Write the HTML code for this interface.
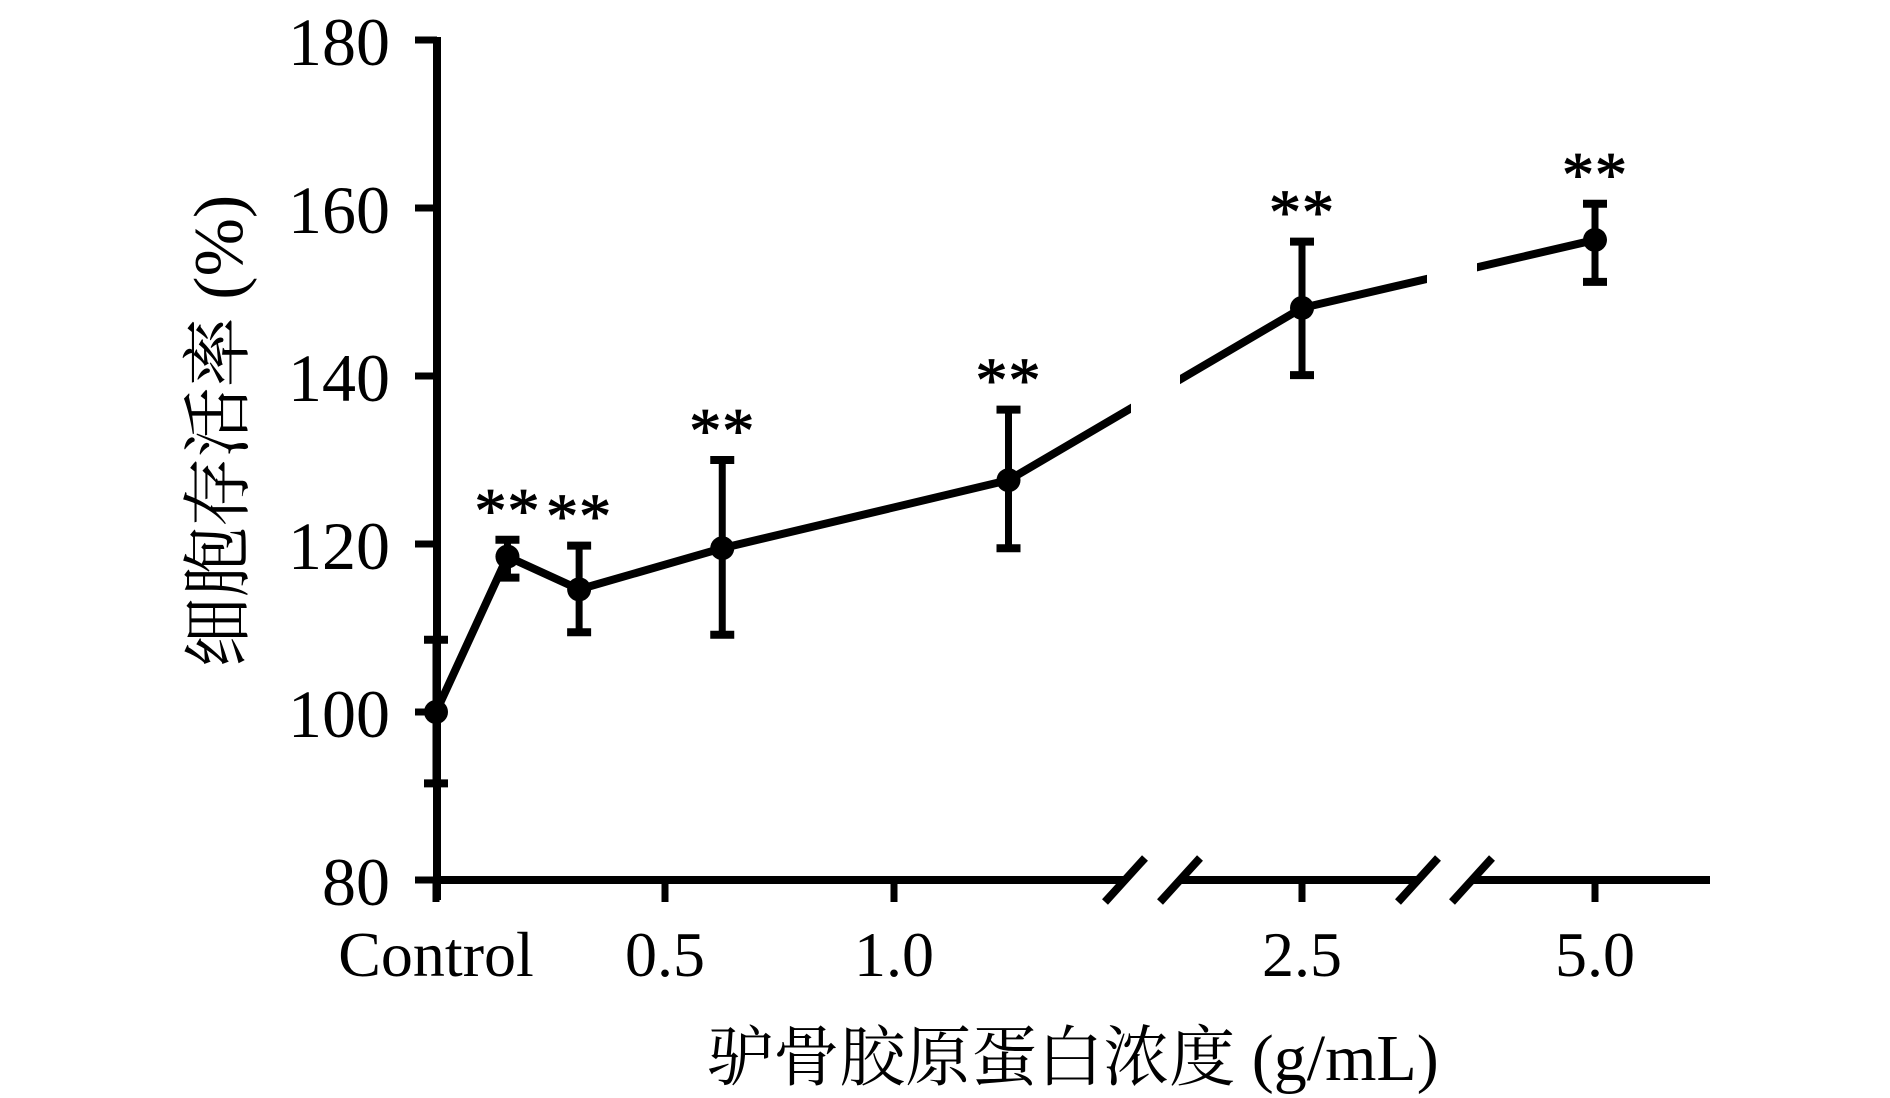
<!DOCTYPE html>
<html><head><meta charset="utf-8"><style>
html,body{margin:0;padding:0;background:#fff}
svg{display:block}
text{font-family:"Liberation Serif","Noto Serif CJK SC",serif;fill:#000}
</style></head><body>
<svg id="chart" width="1890" height="1098" viewBox="0 0 1890 1098" xmlns="http://www.w3.org/2000/svg">
<g id="axes"></g>
<g id="marks"></g>
<text transform="translate(242,431) rotate(-90)" text-anchor="middle" font-size="70">细胞存活率 (%)</text>
<text x="1073" y="1080" text-anchor="middle" font-size="66">驴骨胶原蛋白浓度 (g/mL)</text>
</svg>
<script>
const concentrations = [0, 0.156, 0.3125, 0.625, 1.25, 2.5, 5.0];
const viability = [100, 118.5, 114.6, 119.5, 127.6, 148.1, 156.2];
const errLow = [91.5, 116, 109.5, 109.2, 119.5, 140.1, 151.2];
const errHigh = [108.6, 120.5, 119.8, 130, 136, 156, 160.5];
const significance = ["", "**", "**", "**", "**", "**", "**"];
const yTicks = [80, 100, 120, 140, 160, 180];
const xTickValues = [0, 0.5, 1.0, 2.5, 5.0];
const xTickLabels = ["Control", "0.5", "1.0", "2.5", "5.0"];

const NS = "http://www.w3.org/2000/svg";
function y(v){ return 880 - (v - 80) * 8.4; }
function x(c){
  if (c <= 2) return 436 + c * 458;
  if (c <= 3.5) return 1302 + (c - 2.5) * 200;
  return 1595 + (c - 5) * 200;
}
function mk(tag, attrs, parent){
  const e = document.createElementNS(NS, tag);
  for (const k in attrs) e.setAttribute(k, attrs[k]);
  parent.appendChild(e);
  return e;
}
const axes = document.getElementById('axes');
const marks = document.getElementById('marks');

let el = mk('line', {x1:437, y1:y(180)-3, x2:437, y2:y(80)+20, stroke:'#000','stroke-width':8}, axes);


yTicks.forEach(v => {
  const t = mk('line', {x1:415, y1:y(v), x2:437, y2:y(v), stroke:'#000','stroke-width':7}, axes);
  
  
  const l = mk('text', {x:390, y:y(v)+25, 'text-anchor':'end','font-size':68}, axes);
  l.textContent = v;
  
  
});
[[433,1125],[1180,1420],[1472,1710]].forEach(s => {
  const a = mk('line', {x1:s[0], y1:880, x2:s[1], y2:880, stroke:'#000','stroke-width':8}, axes);
  
  
});
[1125,1180,1418,1472].forEach(cx => {
  const b = mk('line', {x1:cx-20, y1:902, x2:cx+20, y2:858, stroke:'#000','stroke-width':8}, axes);
  
  
});
xTickValues.forEach((c, i) => {
  const t = mk('line', {x1:x(c), y1:880, x2:x(c), y2:902, stroke:'#000','stroke-width':7}, axes);
  
  
  const l = mk('text', {x:x(c), y:976, 'text-anchor':'middle','font-size':64}, axes);
  l.textContent = xTickLabels[i];
  
  
});

const pts = concentrations.map((c, i) => x(c) + ',' + y(viability[i])).join(' ');
el = mk('polyline', {points:pts, fill:'none', stroke:'#000','stroke-width':8,'stroke-linejoin':'round'}, marks);


[[1131,1180],[1427,1477]].forEach(g => {
  const r = mk('rect', {x:g[0], y:0, width:g[1]-g[0], height:850, fill:'#fff'}, marks);
  
  
});
concentrations.forEach((c, i) => {
  const cx = x(c);
  const eb = mk('line', {x1:cx, y1:y(errHigh[i]), x2:cx, y2:y(errLow[i]), stroke:'#000','stroke-width':7}, marks);
  
  
  [errHigh[i], errLow[i]].forEach(v => {
    const cap = mk('line', {x1:cx-12, y1:y(v), x2:cx+12, y2:y(v), stroke:'#000','stroke-width':8}, marks);
    
    
  });
  const p = mk('circle', {cx:cx, cy:y(viability[i]), r:12, fill:'#000'}, marks);
  
  
  if (significance[i]) {
    const s = mk('text', {x:cx, y:y(errHigh[i])-8, 'text-anchor':'middle','font-size':64,'letter-spacing':'1','stroke':'#000','stroke-width':1}, marks);
    s.textContent = significance[i];
    
    
  }
});
</script>
</body></html>
